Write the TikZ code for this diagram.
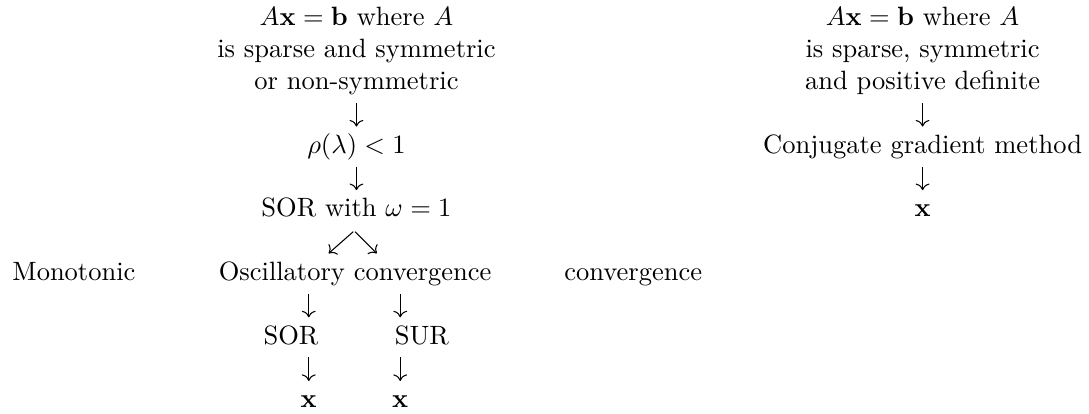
\documentclass[tikz,border=0pt]{standalone}
\usepackage{amsmath}
\usetikzlibrary{arrows.meta,calc}
\begin{document}
\begin{tikzpicture}[x=1pt, y=1pt,
  lbl/.style={anchor=base, inner sep=0pt},
  arr/.style={-{Computer Modern Rightarrow}, line width=0.4pt, shorten <=5.06pt, shorten >=10.06pt},
  diag/.style={-{Computer Modern Rightarrow}, line width=0.4pt}]
\useasboundingbox (0,0) rectangle (410.9,-156.2);
% left branch
\node[lbl] (eqA) at (134.5,-9.8) {$A\mathbf{x}=\mathbf{b}$ where $A$};
\node[lbl] (sparseA) at (134.5,-21.8) {is sparse and symmetric};
\node[lbl] (nonsym) at (134.5,-33.8) {or non-symmetric};
\node[lbl] (rho) at (134.5,-57.8) {$\rho(\lambda)<1$};
\node[lbl] (sorw) at (134.5,-81.8) {SOR with $\omega=1$};
\node[lbl] (mono) at (27.9,-105.8) {Monotonic};
\node[lbl] (osc) at (134,-105.8) {Oscillatory convergence};
\node[lbl] (conv) at (238.9,-105.8) {convergence};
\node[lbl] (sor) at (109.8,-129.8) {SOR};
\node[lbl] (sur) at (159.2,-129.8) {SUR};
\node[lbl] (xa) at (116.5,-153.8) {$\mathbf{x}$};
\node[lbl] (xb) at (151,-153.8) {$\mathbf{x}$};
% right branch
\node[lbl] (eqB) at (348.1,-9.8) {$A\mathbf{x}=\mathbf{b}$ where $A$};
\node[lbl] (sparseB) at (348.1,-21.8) {is sparse, symmetric};
\node[lbl] (posdef) at (348.1,-33.8) {and positive definite};
\node[lbl] (cg) at (348.1,-57.8) {Conjugate gradient method};
\node[lbl] (xc) at (348.1,-81.8) {$\mathbf{x}$};
% arrows
\draw[arr] (nonsym.base) -- (rho.base);
\draw[arr] (rho.base) -- (sorw.base);
\draw[diag] ($(sorw.base)+(-1.2,-5.6)$) -- ($(osc.base)+(-10,10.2)$);
\draw[diag] ($(sorw.base)+(-0.5,-5.6)$) -- ($(osc.base)+(8.2,10.2)$);
\draw[arr] (osc.base -| xa) -- (sor.base -| xa);
\draw[arr] (osc.base -| xb) -- (sur.base -| xb);
\draw[arr] (sor.base -| xa) -- (xa.base);
\draw[arr] (sur.base -| xb) -- (xb.base);
\draw[arr] (posdef.base) -- (cg.base);
\draw[arr] (cg.base) -- (xc.base);
\end{tikzpicture}
\end{document}
